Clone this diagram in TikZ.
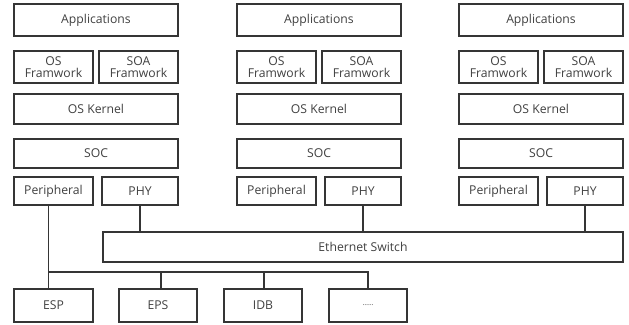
\documentclass[tikz,border=0pt]{standalone}
\usepackage{fontspec}
\setmainfont{Open Sans}
\definecolor{linec}{HTML}{353535}
\definecolor{textc}{HTML}{404040}
% place a rectangle node by its corners (x1,y1)-(x2,y2)
\newcommand\placebox[6]{%
  \node[box, minimum width={((#4)-(#2))*1pt}, minimum height={((#5)-(#3))*1pt}]
    (#1) at ({((#2)+(#4))/2},{((#3)+(#5))/2}) {#6};}
\begin{document}
\begin{tikzpicture}[x=1pt,y=-1pt,
  box/.style={draw=linec, line width=1.5pt, rectangle, inner sep=0pt,
    font=\fontsize{12.2}{12.5}\selectfont, text=textc, align=center},
  wire/.style={draw=linec, line width=1.5pt}]
\useasboundingbox (0,0) rectangle (629,324);

% three ECU stacks
\foreach \c/\i in {14/1,237/2,459/3}{
  \placebox{app\i}{\c}{4}{\c+164}{36}{Applications}
  \placebox{osf\i}{\c}{51}{\c+79}{83}{OS\\Framwork}
  \placebox{soa\i}{\c+85}{51}{\c+164}{83}{SOA\\Framwork}
  \placebox{ker\i}{\c}{94}{\c+164}{124}{OS Kernel}
  \placebox{soc\i}{\c}{139}{\c+164}{168}{SOC}
  \placebox{per\i}{\c}{177}{\c+79}{205}{Peripheral}
  \placebox{phy\i}{\c+88}{177}{\c+164}{205}{PHY}
}

% switch and peripheral devices
\placebox{sw}{103}{232}{623}{262}{Ethernet Switch}
\placebox{esp}{14}{289}{93}{322}{ESP}
\placebox{eps}{119}{289}{197}{322}{EPS}
\placebox{idb}{224}{289}{302}{322}{IDB}
\placebox{dots}{329}{289}{407}{322}{{\fontsize{7}{8}\selectfont ……}}

% PHY uplinks to the switch
\foreach \i in {1,2,3}
  \draw[wire] (phy\i.south) -- (phy\i.south |- sw.north);

% peripheral bus
\coordinate (busL) at (48.5,272);
\coordinate (busR) at (368,272);
\coordinate (tapEPS) at (161,272);
\coordinate (tapIDB) at (264,272);
\draw[wire] (per1.south -| busL) -- (esp.north -| busL);
\draw[wire] (busL) -- (busR) -- (dots.north -| busR);
\draw[wire] (tapEPS) -- (eps.north -| tapEPS);
\draw[wire] (tapIDB) -- (idb.north -| tapIDB);
\end{tikzpicture}
\end{document}
